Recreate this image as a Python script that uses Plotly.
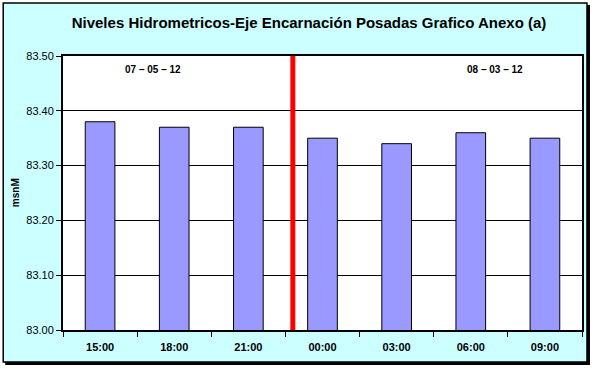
import plotly.graph_objects as go

categories = ["15:00", "18:00", "21:00", "00:00", "03:00", "06:00", "09:00"]
levels = [83.38, 83.37, 83.37, 83.35, 83.34, 83.36, 83.35]
y_ticks = [83.00, 83.10, 83.20, 83.30, 83.40, 83.50]
date_labels = ["07 – 05 – 12", "08 – 03 – 12"]
date_positions = [0.71, 5.33]
divider_at = 2.6

W, H = 595, 369
L, R, T, B = 63, 11, 56, 39
pw, ph = W - L - R, H - T - B

def px(x):
    return (x - L) / pw

def py(y):
    return (H - B - y) / ph

fig = go.Figure()
fig.add_trace(go.Bar(
    x=categories, y=levels, width=0.4,
    marker=dict(color="#9999FF", line=dict(color="black", width=1)),
))

shapes = [
    # shadow
    dict(type="rect", xref="paper", yref="paper", x0=px(5), x1=px(592), y0=py(5), y1=py(365),
         fillcolor="black", line=dict(width=0), layer="below"),
    # chart area
    dict(type="rect", xref="paper", yref="paper", x0=px(3), x1=px(589), y0=py(3), y1=py(362),
         fillcolor="#CCFFFF", line=dict(color="black", width=1.5), layer="below"),
    # plot area background
    dict(type="rect", xref="paper", yref="paper", x0=0, x1=1, y0=0, y1=1,
         fillcolor="white", line=dict(width=0), layer="below"),
    # divider
    dict(type="line", xref="x", yref="y", x0=divider_at, x1=divider_at, y0=83.0, y1=83.5,
         line=dict(color="#FF0000", width=5)),
]

annotations = [
    dict(text="<b>" + t + "</b>", x=p, y=83.476, xref="x", yref="y", showarrow=False,
         font=dict(family="Arial", size=10, color="black"))
    for t, p in zip(date_labels, date_positions)
]
annotations.append(dict(text="<b>msnM</b>", textangle=-90, xref="paper", yref="paper",
                        x=px(15), y=py(193), xanchor="center", yanchor="middle", showarrow=False,
                        font=dict(family="Arial", size=10, color="black")))

fig.update_layout(
    width=W, height=H,
    margin=dict(l=L, r=R, t=T, b=B),
    paper_bgcolor="white",
    plot_bgcolor="white",
    showlegend=False,
    title=dict(text="<b>Niveles Hidrometricos-Eje Encarnación Posadas Grafico Anexo (a)</b>",
               x=309 / W, xanchor="center", y=1 - 23 / H, yanchor="middle",
               font=dict(family="Arial", size=15, color="black")),
    shapes=shapes,
    annotations=annotations,
)
fig.update_xaxes(
    type="category", tickson="boundaries", ticks="outside", ticklen=5, tickcolor="black",
    showline=True, linecolor="black", linewidth=2, mirror=True, showgrid=False,
    tickfont=dict(family="Arial", size=11, color="black"),
    tickprefix="<b>", ticksuffix="</b>", ticklabelstandoff=6,
    range=[-0.5, 6.5],
)
fig.update_yaxes(
    range=[83.0, 83.5], tickvals=y_ticks, tickformat=".2f",
    ticks="outside", ticklen=5, tickcolor="black",
    showline=True, linecolor="black", linewidth=2, mirror=True,
    showgrid=True, gridcolor="black", gridwidth=1, zeroline=False,
    tickfont=dict(family="Arial", size=11, color="black"),
    tickprefix="<b>", ticksuffix="</b>",
)
fig.write_html("out.html", config={"displayModeBar": False},
               post_script="document.body.style.margin='0';")
